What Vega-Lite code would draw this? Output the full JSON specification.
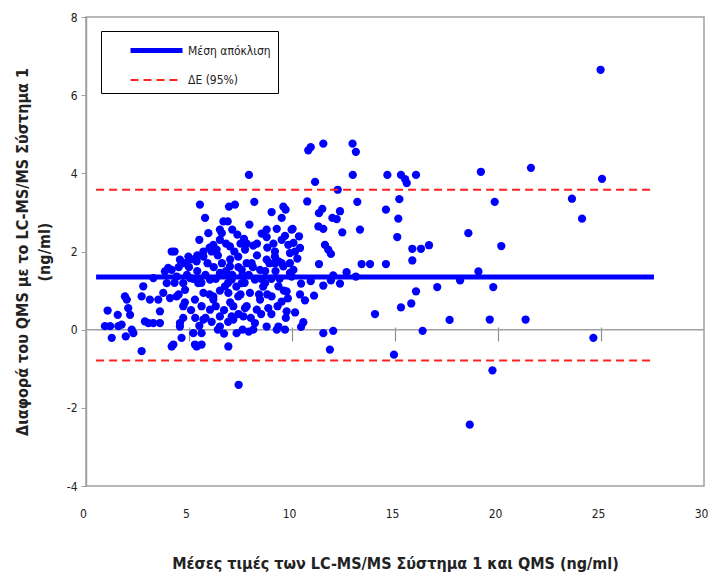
{
  "$schema": "https://vega.github.io/schema/vega-lite/v6.json",
  "width": 618,
  "height": 469,
  "autosize": "none",
  "padding": {"left": 86, "top": 17, "right": 9, "bottom": 94},
  "background": "white",
  "config": {
    "font": "DejaVu Sans Condensed",
    "view": {"stroke": "#a0a0a0", "strokeWidth": 1.5},
    "axis": {"grid": false, "labelFont": "DejaVu Sans Condensed", "titleFont": "DejaVu Sans Condensed"},
    "legend": {"labelFont": "DejaVu Sans Condensed"}
  },
  "datasets": {
    "pts": [
      {"x":0.92,"y":0.09},{"x":1.05,"y":0.49},{"x":1.17,"y":0.09},{"x":1.25,"y":-0.21},{"x":1.54,"y":0.38},{"x":1.57,"y":0.09},{"x":1.73,"y":0.13},{"x":1.89,"y":0.85},{"x":1.98,"y":0.77},{"x":2.05,"y":0.55},{"x":2.14,"y":0.38},{"x":1.93,"y":-0.17},{"x":2.22,"y":0.0},{"x":2.3,"y":-0.09},{"x":2.7,"y":-0.55},{"x":2.7,"y":0.85},{"x":2.78,"y":1.11},{"x":2.86,"y":0.21},{"x":3.03,"y":0.17},{"x":3.27,"y":0.17},{"x":3.1,"y":0.77},{"x":3.27,"y":1.32},{"x":3.51,"y":0.77},{"x":3.59,"y":0.47},{"x":3.59,"y":0.17},{"x":3.75,"y":0.94},{"x":3.83,"y":1.49},{"x":3.99,"y":1.58},{"x":4.16,"y":2.0},{"x":3.92,"y":1.19},{"x":4.16,"y":-0.43},{"x":4.08,"y":0.81},{"x":4.64,"y":-0.21},{"x":4.56,"y":0.17},
      {"x":4.3,"y":2.0},{"x":4.56,"y":1.79},{"x":4.97,"y":1.87},{"x":5.37,"y":1.75},{"x":5.7,"y":1.87},{"x":6.18,"y":2.17},{"x":6.34,"y":2.05},{"x":4.16,"y":1.53},{"x":4.4,"y":1.36},{"x":4.72,"y":1.19},{"x":4.81,"y":1.02},{"x":5.05,"y":1.32},{"x":5.45,"y":1.19},{"x":5.7,"y":0.94},{"x":6.02,"y":1.28},{"x":6.5,"y":1.45},{"x":6.75,"y":1.11},{"x":4.4,"y":0.85},{"x":4.72,"y":0.6},{"x":5.29,"y":0.77},{"x":5.61,"y":0.6},{"x":6.18,"y":0.77},{"x":6.02,"y":0.51},{"x":6.5,"y":0.34},{"x":4.72,"y":0.3},{"x":5.7,"y":0.26},{"x":4.56,"y":0.08},{"x":5.61,"y":-0.09},{"x":5.21,"y":-0.09},{"x":4.24,"y":-0.38},{"x":5.29,"y":-0.38},{"x":5.61,"y":-0.38},{"x":5.37,"y":-0.43},{"x":6.5,"y":0.08},{"x":5.53,"y":3.2},{"x":5.78,"y":2.86},{"x":5.94,"y":2.47},{"x":6.67,"y":2.77},{"x":6.59,"y":2.47},{"x":5.5,"y":2.3},{"x":6.18,"y":0.85},
      {"x":6.94,"y":3.15},{"x":7.23,"y":3.2},{"x":7.91,"y":3.96},{"x":8.17,"y":3.27},{"x":9.01,"y":3.01},{"x":9.58,"y":3.15},{"x":9.69,"y":3.07},{"x":9.5,"y":2.86},{"x":6.88,"y":2.77},{"x":7.93,"y":2.69},{"x":7.1,"y":2.56},{"x":7.35,"y":2.43},{"x":7.67,"y":2.32},{"x":8.53,"y":2.46},{"x":8.77,"y":2.37},{"x":9.26,"y":2.58},{"x":9.98,"y":2.56},{"x":9.66,"y":2.4},{"x":9.82,"y":2.17},{"x":8.12,"y":2.15},{"x":9.17,"y":2.0},{"x":9.34,"y":1.75},{"x":9.9,"y":1.96},{"x":6.99,"y":2.13},{"x":7.39,"y":1.87},{"x":7.72,"y":2.05},{"x":6.99,"y":1.62},{"x":7.56,"y":1.53},{"x":8.04,"y":1.7},{"x":8.45,"y":1.53},{"x":8.77,"y":1.79},{"x":9.17,"y":1.87},{"x":9.58,"y":1.62},{"x":9.9,"y":1.45},{"x":7.07,"y":1.28},{"x":7.56,"y":1.19},{"x":8.2,"y":1.28},{"x":8.69,"y":1.19},{"x":9.34,"y":1.11},{"x":9.74,"y":0.98},{"x":6.91,"y":0.94},{"x":7.39,"y":0.85},{"x":7.96,"y":0.94},{"x":8.45,"y":0.77},{"x":9.01,"y":0.85},{"x":9.5,"y":0.72},{"x":7.15,"y":0.6},{"x":7.72,"y":0.55},{"x":8.29,"y":0.51},{"x":8.85,"y":0.55},{"x":9.74,"y":0.47},{"x":7.07,"y":0.34},{"x":8.2,"y":0.17},{"x":8.77,"y":0.08},{"x":9.34,"y":0.08},{"x":9.66,"y":0.0},{"x":7.31,"y":-0.09},{"x":6.91,"y":-0.43},{"x":7.41,"y":-1.41},{"x":7.15,"y":0.26},{"x":7.64,"y":0.34},{"x":8.12,"y":0.0},{"x":9.26,"y":0.0},{"x":6.5,"y":2.56},{"x":8.77,"y":2.56},{"x":9.17,"y":1.7},{"x":9.5,"y":1.7},
      {"x":6.2,"y":1.6},{"x":6.4,"y":1.9},{"x":6.6,"y":1.7},{"x":6.8,"y":1.5},{"x":7.0,"y":1.8},{"x":7.2,"y":2.0},{"x":7.4,"y":1.6},{"x":7.6,"y":1.4},{"x":7.8,"y":1.7},{"x":6.3,"y":1.3},{"x":6.5,"y":1.0},{"x":6.9,"y":1.2},{"x":7.1,"y":1.4},{"x":7.3,"y":1.1},{"x":7.5,"y":0.9},{"x":7.7,"y":1.2},{"x":7.9,"y":1.4},{"x":8.1,"y":1.6},{"x":8.3,"y":1.9},{"x":8.5,"y":1.3},{"x":8.7,"y":1.5},{"x":8.9,"y":1.7},{"x":5.8,"y":1.4},{"x":5.9,"y":1.7},{"x":6.1,"y":2.0},{"x":5.6,"y":1.2},{"x":5.4,"y":1.5},{"x":5.2,"y":1.3},{"x":5.0,"y":1.6},{"x":4.9,"y":1.4},{"x":6.0,"y":0.9},{"x":6.3,"y":0.6},{"x":6.7,"y":0.5},{"x":7.0,"y":0.7},{"x":7.4,"y":0.4},{"x":7.8,"y":0.6},{"x":8.0,"y":0.3},{"x":8.4,"y":0.9},{"x":8.6,"y":1.1},{"x":8.8,"y":0.9},{"x":9.0,"y":1.3},{"x":9.2,"y":1.5},{"x":9.4,"y":1.3},{"x":9.6,"y":1.0},{"x":9.8,"y":0.8},{"x":9.9,"y":1.7},{"x":9.5,"y":2.3},{"x":9.1,"y":2.2},{"x":8.8,"y":2.1},{"x":8.3,"y":2.2},{"x":7.8,"y":2.2},{"x":7.5,"y":2.2},{"x":6.8,"y":2.2},{"x":6.5,"y":2.3},{"x":6.0,"y":2.1},{"x":5.7,"y":2.0},{"x":5.4,"y":1.9},{"x":5.1,"y":1.8},{"x":4.8,"y":1.7},{"x":4.5,"y":1.6},{"x":4.3,"y":1.2},{"x":4.5,"y":0.9},{"x":4.8,"y":0.7},{"x":5.1,"y":0.5},{"x":5.3,"y":0.3},{"x":5.5,"y":0.1},{"x":5.8,"y":0.3},{"x":6.1,"y":0.2},{"x":6.4,"y":0.0},{"x":6.7,"y":-0.1},{"x":6.9,"y":0.2},{"x":7.6,"y":0.0},{"x":7.9,"y":-0.05},{"x":8.5,"y":0.4},{"x":9.0,"y":0.4},{"x":9.3,"y":0.6},{"x":9.7,"y":0.3},
      {"x":10.79,"y":4.59},{"x":10.91,"y":4.67},{"x":11.52,"y":4.76},{"x":12.94,"y":4.76},{"x":13.1,"y":4.55},{"x":12.95,"y":3.96},{"x":11.12,"y":3.78},{"x":12.22,"y":3.58},{"x":10.74,"y":3.28},{"x":13.17,"y":3.27},{"x":11.47,"y":3.09},{"x":11.31,"y":2.98},{"x":12.33,"y":3.03},{"x":11.96,"y":2.86},{"x":12.17,"y":2.83},{"x":11.28,"y":2.64},{"x":11.52,"y":2.58},{"x":12.44,"y":2.49},{"x":13.3,"y":2.56},{"x":10.03,"y":2.58},{"x":10.34,"y":2.39},{"x":10.07,"y":2.22},{"x":10.39,"y":2.09},{"x":11.6,"y":2.17},{"x":11.76,"y":2.05},{"x":11.89,"y":1.94},{"x":10.15,"y":2.0},{"x":10.26,"y":1.82},{"x":11.31,"y":1.68},{"x":13.38,"y":1.68},{"x":10.07,"y":1.53},{"x":9.98,"y":1.36},{"x":12.0,"y":1.39},{"x":12.65,"y":1.47},{"x":13.1,"y":1.36},{"x":10.44,"y":1.18},{"x":10.91,"y":1.24},{"x":11.52,"y":1.13},{"x":11.89,"y":1.26},{"x":12.33,"y":1.18},{"x":10.39,"y":0.9},{"x":10.63,"y":0.75},{"x":11.07,"y":0.87},{"x":10.15,"y":0.44},{"x":10.55,"y":0.19},{"x":10.44,"y":0.07},{"x":11.52,"y":-0.09},{"x":12.0,"y":-0.03},{"x":11.84,"y":-0.51},
      {"x":13.79,"y":1.68},{"x":14.56,"y":1.68},{"x":14.63,"y":3.96},{"x":15.29,"y":3.96},{"x":15.49,"y":3.85},{"x":15.57,"y":3.75},{"x":16.02,"y":3.96},{"x":15.21,"y":3.34},{"x":14.56,"y":3.07},{"x":15.16,"y":2.84},{"x":15.11,"y":2.37},{"x":15.84,"y":2.07},{"x":16.26,"y":2.07},{"x":16.65,"y":2.16},{"x":15.84,"y":1.77},{"x":17.05,"y":1.09},{"x":16.02,"y":0.98},{"x":15.79,"y":0.67},{"x":15.29,"y":0.57},{"x":14.03,"y":0.4},{"x":17.65,"y":0.25},{"x":16.34,"y":-0.03},{"x":14.95,"y":-0.64},
      {"x":19.17,"y":4.04},{"x":21.6,"y":4.14},{"x":25.05,"y":3.86},{"x":19.84,"y":3.27},{"x":23.59,"y":3.35},{"x":24.08,"y":2.84},{"x":18.56,"y":2.47},{"x":20.16,"y":2.14},{"x":19.05,"y":1.49},{"x":18.16,"y":1.26},{"x":19.77,"y":1.09},{"x":19.6,"y":0.26},{"x":21.34,"y":0.26},{"x":24.63,"y":-0.21},{"x":19.73,"y":-1.04},{"x":18.63,"y":-2.43},{"x":24.98,"y":6.65}
    ],
    "lines": [
      {"series": "Μέση απόκλιση", "x1": 0.49, "x2": 27.57, "y": 1.35},
      {"series": "ΔΕ (95%)", "x1": 0.49, "x2": 27.47, "y": 3.58},
      {"series": "ΔΕ (95%)", "x1": 0.49, "x2": 27.47, "y": -0.79}
    ],
    "zero": [{"y": 0}]
  },
  "resolve": {"axis": {"x": "independent"}},
  "layer": [
    {
      "data": {"name": "zero"},
      "mark": {"type": "rule", "color": "#a0a0a0", "strokeWidth": 1.5},
      "encoding": {
        "y": {"field": "y", "type": "quantitative", "scale": {"domain": [-4, 8], "nice": false, "zero": false}}
      }
    },
    {
      "data": {"name": "pts"},
      "mark": {"type": "point", "filled": true, "shape": "circle", "size": 68, "color": "#0000ff", "opacity": 1},
      "encoding": {
        "x": {
          "field": "x", "type": "quantitative",
          "scale": {"domain": [0, 30], "nice": false, "zero": false},
          "axis": {
            "orient": "bottom",
            "values": [0, 5, 10, 15, 20, 25, 30],
            "domain": false, "ticks": false,
            "labelPadding": 22, "labelFontSize": 12, "labelColor": "#222", "labelOffset": -3,
            "labelFlush": false,
            "title": "Μέσες τιμές των LC-MS/MS Σύστημα 1 και QMS (ng/ml)",
            "titleFontSize": 16, "titleFontWeight": "bold", "titleColor": "#222", "titlePadding": 36
          }
        },
        "y": {
          "field": "y", "type": "quantitative",
          "scale": {"domain": [-4, 8], "nice": false, "zero": false},
          "axis": {
            "values": [-4, -2, 0, 2, 4, 6, 8],
            "labelExpr": "'' + datum.value",
            "domainColor": "#a0a0a0", "domainWidth": 1.5, "tickColor": "#a0a0a0", "tickSize": 5,
            "labelPadding": 4, "labelFontSize": 12, "labelColor": "#222",
            "title": ["Διαφορά του QMS με το LC-MS/MS Σύστημα 1", "(ng/ml)"],
            "titleFontSize": 16, "titleFontWeight": "bold", "titleColor": "#222", "titlePadding": 14,
            "titleLineHeight": 22
          }
        }
      }
    },
    {
      "data": {"name": "lines"},
      "mark": {"type": "rule"},
      "encoding": {
        "x": {
          "field": "x1", "type": "quantitative",
          "scale": {"domain": [0, 30], "nice": false, "zero": false},
          "axis": {
            "orient": "top",
            "values": [5, 10, 15, 20, 25], "offset": -324, "tickSize": 14,
            "tickColor": "#909090", "tickWidth": 1.2, "domain": false, "labels": false, "title": null
          }
        },
        "x2": {"field": "x2"},
        "y": {"field": "y", "type": "quantitative"},
        "color": {
          "field": "series", "type": "nominal",
          "scale": {"domain": ["Μέση απόκλιση", "ΔΕ (95%)"], "range": ["#0000ff", "#ff2020"]},
          "legend": {
            "title": null, "orient": "none", "legendX": 15, "legendY": 14,
            "symbolType": "M-2.6,0H2.6", "symbolSize": 400,
            "symbolOffset": 36, "labelOffset": 19,
            "labelFontSize": 12, "labelColor": "#222",
            "strokeColor": "#000", "padding": 7, "rowPadding": 8, "fillColor": "white"
          }
        },
        "strokeDash": {
          "field": "series", "type": "nominal",
          "scale": {"domain": ["Μέση απόκλιση", "ΔΕ (95%)"], "range": [[1, 0], [8, 5]]}
        },
        "strokeWidth": {
          "field": "series", "type": "nominal",
          "scale": {"domain": ["Μέση απόκλιση", "ΔΕ (95%)"], "range": [5, 2]}
        }
      }
    }
  ]
}
